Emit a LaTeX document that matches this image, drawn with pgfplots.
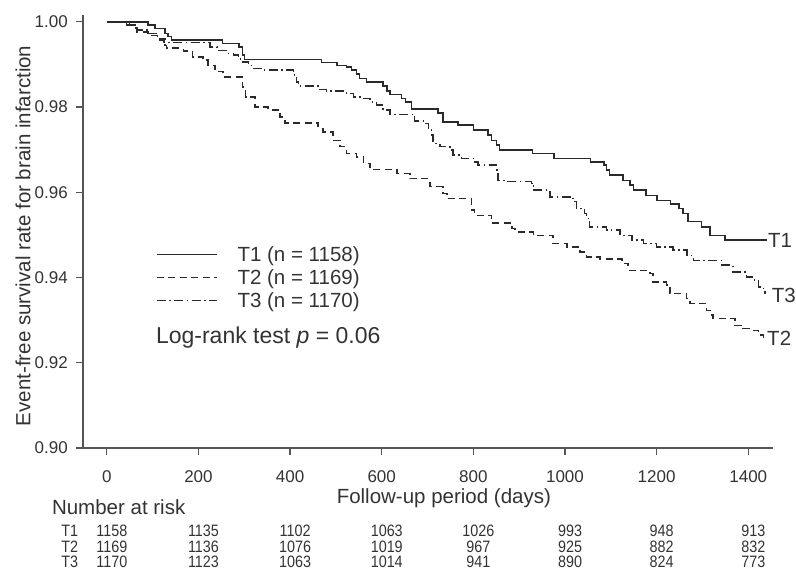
\documentclass[border=0pt]{standalone}
\usepackage{fontspec}
\setmainfont{Liberation Sans}
\newfontfamily\riskfont[FakeStretch=0.87]{Liberation Sans}
\usepackage{pgfplots}
\pgfplotsset{compat=1.18}

\definecolor{txt}{HTML}{333333}
\definecolor{crv}{HTML}{2A2A2A}
\definecolor{axc}{HTML}{555555}

\newcommand{\ticksz}{\fontsize{17}{20}\selectfont}
\newcommand{\labsz}{\fontsize{20.5}{24}\selectfont}
\newcommand{\legsz}{\fontsize{20.5}{24}\selectfont}
\newcommand{\risksz}{\riskfont\fontsize{16.5}{18}\selectfont}

% Kaplan-Meier steps (day, survival)
\pgfplotstableread{
x y
0 1.0
90 0.9992
105 0.9984
127 0.9973
134 0.9965
141 0.9957
253 0.9949
288 0.9941
296 0.9922
301 0.9912
469 0.9905
502 0.9898
523 0.9894
534 0.9887
545 0.9877
552 0.9867
567 0.9859
603 0.9849
611 0.9838
618 0.9830
643 0.9820
652 0.9812
665 0.9796
723 0.9786
734 0.9765
767 0.9758
800 0.9746
832 0.9734
840 0.9722
851 0.9711
857 0.9699
929 0.9691
976 0.9679
1056 0.9671
1085 0.9664
1091 0.9652
1097 0.9640
1127 0.9628
1142 0.9617
1149 0.9605
1177 0.9593
1201 0.9581
1230 0.9572
1249 0.9562
1258 0.9550
1269 0.9531
1298 0.9519
1317 0.9499
1349 0.9488
1440 0.9488
}\tone

\pgfplotstableread{
x y
0 1.0
50 0.9992
61 0.9985
66 0.9976
90 0.9968
112 0.9961
127 0.9945
130 0.9938
167 0.9932
187 0.9918
210 0.9910
221 0.9898
236 0.9883
254 0.9871
296 0.9847
303 0.9824
323 0.9800
352 0.9793
378 0.9777
389 0.9763
461 0.9754
472 0.9742
494 0.9722
509 0.9707
523 0.9691
545 0.9683
560 0.9668
574 0.9654
633 0.9644
662 0.9632
705 0.9613
734 0.9597
742 0.9586
796 0.9558
803 0.9546
840 0.9528
884 0.9515
891 0.9507
931 0.9499
974 0.9480
1004 0.9472
1033 0.9460
1047 0.9448
1076 0.9444
1124 0.9433
1138 0.9417
1185 0.9409
1192 0.9390
1222 0.9382
1229 0.9362
1265 0.9351
1273 0.9339
1309 0.9323
1320 0.9312
1323 0.9304
1371 0.9288
1389 0.9280
1411 0.9276
1422 0.9265
1433 0.9253
1437 0.9253
}\ttwo

\pgfplotstableread{
x y
0 1.0
43 0.9992
61 0.9988
65 0.9981
90 0.9973
108 0.9965
116 0.9957
125 0.9951
225 0.9941
240 0.9933
261 0.9926
276 0.9922
287 0.9914
292 0.9906
309 0.9898
320 0.9891
338 0.9887
407 0.9875
414 0.9859
418 0.9849
461 0.9841
479 0.9838
523 0.9832
538 0.9824
556 0.9820
574 0.9812
589 0.9805
603 0.9793
618 0.9783
672 0.9767
694 0.9761
702 0.9746
709 0.9734
712 0.9715
727 0.9707
749 0.9699
756 0.9687
774 0.9679
803 0.9671
810 0.9664
851 0.9652
854 0.9628
872 0.9625
927 0.9621
931 0.9605
967 0.9589
1018 0.9578
1025 0.9562
1043 0.9550
1047 0.9539
1054 0.9519
1091 0.9511
1120 0.9499
1146 0.9488
1171 0.9480
1200 0.9472
1236 0.9464
1266 0.9452
1280 0.9440
1342 0.9429
1367 0.9413
1396 0.9401
1411 0.9394
1422 0.9378
1433 0.9370
1437 0.9362
}\tthree

% number at risk (x position, row height, count)
\pgfplotstableread{
x y n
11 0.8805 1158
211 0.8805 1135
411 0.8805 1102
611 0.8805 1063
811 0.8805 1026
1011 0.8805 993
1211 0.8805 948
1411 0.8805 913
11 0.8768 1169
211 0.8768 1136
411 0.8768 1076
611 0.8768 1019
811 0.8768 967
1011 0.8768 925
1211 0.8768 882
1411 0.8768 832
11 0.8732 1170
211 0.8732 1123
411 0.8732 1063
611 0.8732 1014
811 0.8732 941
1011 0.8732 890
1211 0.8732 824
1411 0.8732 773
}\risk

\begin{document}
\begin{tikzpicture}
\path[use as bounding box] (-83pt,-122pt) rectangle (713pt,448pt);
\begin{axis}[
  scale only axis, width=690pt, height=433pt,
  xmin=-52, xmax=1454, ymin=0.90, ymax=1.0016,
  axis lines*=left,
  axis line style={axc, line width=1.6pt},
  xtick={0,200,...,1400},
  ytick={0.90,0.92,0.94,0.96,0.98,1.00},
  tick align=outside, major tick length=7pt,
  tick style={axc, line width=1.3pt},
  scaled ticks=false,
  /pgf/number format/assume math mode=true,
  ticklabel style={font=\ticksz, text=txt},
  xticklabel style={inner sep=0pt, yshift=-15pt, /pgf/number format/1000 sep={}},
  yticklabel style={inner sep=0pt, xshift=-8pt,
    /pgf/number format/.cd, fixed, fixed zerofill, precision=2},
  xlabel={Follow-up period (days)},
  ylabel={Event-free survival rate for brain infarction},
  label style={font=\labsz, text=txt},
  xlabel style={at={(axis description cs:0.523,-0.116)}, anchor=center},
  ylabel style={at={(axis description cs:-0.0870,0.49)}, anchor=center},
  clip=false,
  legend image code/.code={\draw[#1] (0pt,0pt) -- (60pt,0pt);},
  legend style={at={(axis cs:107,0.9478)}, anchor=north west,
    draw=none, fill=none, inner sep=0pt, row sep=2.5pt,
    font=\legsz, text=txt,
    /tikz/every odd column/.append style={column sep=18pt}},
  legend cell align=left,
]
\addplot[const plot, crv, line width=1.5pt] table {\tone};
\addlegendentry{T1 (n = 1158)}
\addplot[const plot, crv, line width=1.5pt, dash pattern=on 7pt off 4.5pt] table {\ttwo};
\addlegendentry{T2 (n = 1169)}
\addplot[const plot, crv, line width=1.5pt, dash pattern=on 9pt off 3.5pt on 1.5pt off 3.5pt] table {\tthree};
\addlegendentry{T3 (n = 1170)}

\addplot[forget plot, draw=none, mark=none, nodes near coords,
  point meta=explicit symbolic,
  every node near coord/.append style={anchor=center, inner sep=0pt,
    font=\risksz, text=txt}]
  table[meta=n] {\risk};

\node[anchor=base west, inner sep=0pt, font=\fontsize{23}{27}\selectfont, text=txt]
  at (axis cs:107,0.92458) {Log-rank test \textit{p} = 0.06};
\node[anchor=west, inner sep=0pt, font=\labsz, text=txt] at (axis cs:1443,0.9488) {T1};
\node[anchor=west, inner sep=0pt, font=\labsz, text=txt] at (axis cs:1451,0.9358) {T3};
\node[anchor=west, inner sep=0pt, font=\labsz, text=txt] at (axis cs:1441,0.9257) {T2};
\node[anchor=west, inner sep=0pt, font=\labsz, text=txt] at (axis cs:-120,0.8861) {Number at risk};
\node[anchor=center, inner sep=0pt, font=\risksz, text=txt] at (axis cs:-81,0.8805) {T1};
\node[anchor=center, inner sep=0pt, font=\risksz, text=txt] at (axis cs:-81,0.8768) {T2};
\node[anchor=center, inner sep=0pt, font=\risksz, text=txt] at (axis cs:-81,0.8732) {T3};
\end{axis}
\end{tikzpicture}
\end{document}
